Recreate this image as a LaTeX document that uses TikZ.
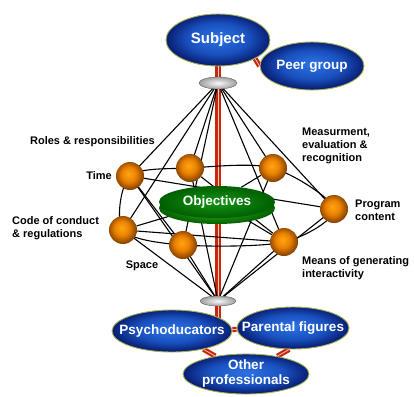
\documentclass[tikz,border=0pt]{standalone}
\usepackage{fontspec}
\setmainfont{Liberation Sans}
\usetikzlibrary{shapes.geometric,backgrounds}
\definecolor{bluein}{RGB}{45,115,230}
\definecolor{bluemid}{RGB}{25,80,190}
\definecolor{blueout}{RGB}{8,30,115}
\definecolor{olivedge}{RGB}{165,175,80}
\definecolor{ballin}{RGB}{255,165,20}
\definecolor{ballmid}{RGB}{235,130,0}
\definecolor{ballout}{RGB}{140,70,0}
\definecolor{polered}{RGB}{200,40,10}
\definecolor{objin}{RGB}{20,150,20}
\definecolor{objout}{RGB}{0,95,0}
\definecolor{rimgreen}{RGB}{70,190,40}
\pgfdeclareradialshading{orb}{\pgfpoint{-3bp}{4bp}}{color(0bp)=(ballin); color(13bp)=(ballmid); color(25bp)=(ballout); color(50bp)=(ballout)}
\pgfdeclareradialshading{glass}{\pgfpoint{0bp}{2bp}}{color(0bp)=(bluein); color(15bp)=(bluemid); color(25bp)=(blueout); color(50bp)=(blueout)}

\begin{document}
\begin{tikzpicture}[x=1pt,y=-1pt,
  grp/.style={ellipse,draw=olivedge,line width=0.9pt,shading=glass,
    text=white,font=\fontsize{13.5}{15}\selectfont\bfseries,inner xsep=-14pt,inner ysep=-3pt,align=center},
  ball/.style={circle,minimum size=28pt,inner sep=0,shading=orb},
  disk/.style={ellipse,inner sep=0,shading=radial,inner color=white!95!gray,outer color=gray!75,draw=gray!60!black,line width=0.3pt},
  lbl/.style={font=\fontsize{11}{13}\selectfont\bfseries,inner sep=0,align=left},
  bar/.style={draw=polered,line width=2.2pt,double=white!80!red,double distance=0.7pt},
  web/.style={black,line width=1.1pt}]
\useasboundingbox (0,0) rectangle (414,396);
\node[grp,minimum width=104pt,minimum height=52pt,font=\fontsize{15}{17}\selectfont\bfseries] (subj) at (218,40) {Subject};
\node[grp,minimum width=104pt,minimum height=48pt] (peer) at (312,66) {Peer group};
\node[grp,minimum width=120pt,minimum height=42pt] (psy) at (172,331) {Psychoducators};
\node[grp,minimum width=112pt,minimum height=42pt] (par) at (293,328) {Parental figures};
\node[grp,minimum width=126pt,minimum height=40pt] (oth) at (246,374) {Other\\professionals};
\node[disk,minimum width=38pt,minimum height=12pt] (tdisk) at (218,83) {};
\node[disk,minimum width=36pt,minimum height=10pt] (bdisk) at (218,301) {};
\node[ellipse,minimum width=116pt,minimum height=32pt,shading=radial,inner color=rimgreen,outer color=objout] (objb) at (217,208) {};
\node[ellipse,minimum width=116pt,minimum height=32pt,inner xsep=-12pt,inner ysep=0,shading=radial,inner color=objin,outer color=objout,
  text=white,font=\fontsize{13.5}{15}\selectfont\bfseries] (obj) at (217,202) {Objectives};
\foreach \n/\x/\y in {1/130/176,2/190/168,3/273/168,4/334/209,5/284/242,6/183/245,7/123/230}
  {\node[ball] (B\n) at (\x,\y) {};}
\node[lbl,anchor=east] (lrole) at (155,142) {Roles \& responsibilities};
\node[lbl,anchor=east] (ltime) at (112,176) {Time};
\node[lbl,anchor=west] (lcode) at (12,228) {Code of conduct\\\& regulations};
\node[lbl] (lspace) at (142,266) {Space};
\node[lbl,anchor=west] (lmeas) at (302,146) {Measurment,\\evaluation \&\\recognition};
\node[lbl,anchor=west] (lprog) at (355,210) {Program\\content};
\node[lbl,anchor=west] (lmeans) at (302,268) {Means of generating\\interactivity};
\begin{scope}[on background layer]
\draw[bar] (subj.center) -- (subj.center |- psy.center);
\draw[bar] (subj.south east) -- (peer.west);
\draw[bar] (psy) -- (par);
\draw[bar] (psy) -- (oth);
\draw[bar] (par.-100) -- (oth);
\foreach \n in {1,...,7}{\draw[web] (tdisk.center) -- (B\n.center); \draw[web] (bdisk.center) -- (B\n.center);}
\draw[web] plot[smooth cycle] coordinates {(B1) (B2) (B3) (B4) (B5) (B6) (B7)};
\draw[web] (B1) -- (B6) (B1) -- (B4) (B7) -- (obj) (B7) -- (B5) (B3) -- (obj) (B5) -- (obj) (B2) -- (B5);
\end{scope}
\end{tikzpicture}
\end{document}
